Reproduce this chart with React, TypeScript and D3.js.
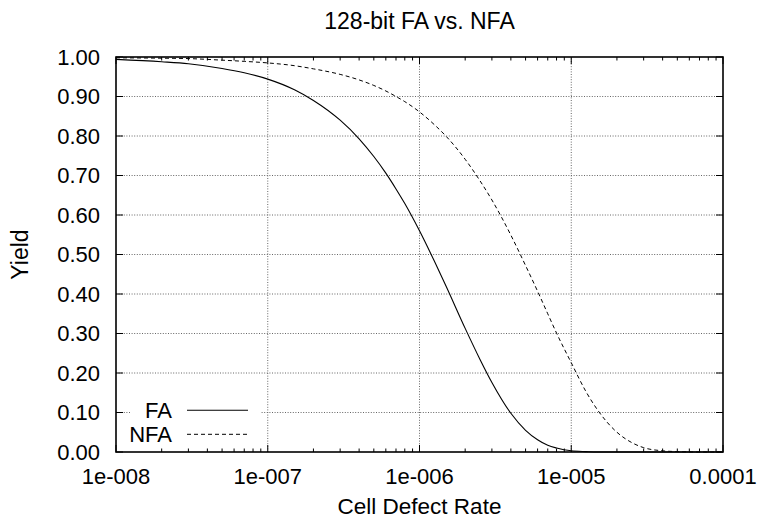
import React from "react";
import * as d3 from "d3";

// defect rate samples (x) and read-off yields for each design
const rates = [
  1e-8, 2e-8, 3e-8, 5e-8, 7e-8, 1e-7, 1.5e-7, 2e-7, 3e-7, 4e-7, 5e-7, 6e-7, 7e-7, 8e-7,
  1e-6, 1.25e-6, 1.5e-6, 2e-6, 2.5e-6, 3e-6, 4e-6, 5e-6, 6e-6, 7e-6, 8e-6,
  1e-5, 1.25e-5, 1.5e-5, 2e-5, 2.5e-5, 3e-5, 4e-5, 5e-5, 7e-5, 1e-4,
];
const faYield = [
  0.994, 0.988, 0.983, 0.971, 0.96, 0.944, 0.917, 0.89, 0.84, 0.793, 0.748, 0.706, 0.666, 0.629,
  0.56, 0.484, 0.419, 0.313, 0.235, 0.176, 0.098, 0.055, 0.031, 0.017, 0.01,
  0.003, 0.001, 0, 0, 0, 0, 0, 0, 0, 0,
];
const nfaYield = [
  0.998, 0.997, 0.996, 0.992, 0.989, 0.985, 0.978, 0.97, 0.956, 0.942, 0.928, 0.914, 0.9, 0.887,
  0.861, 0.829, 0.799, 0.741, 0.687, 0.638, 0.549, 0.472, 0.407, 0.35, 0.301,
  0.226, 0.153, 0.105, 0.05, 0.024, 0.011, 0.003, 0.001, 0, 0,
];
const xTicks = [1e-8, 1e-7, 1e-6, 1e-5, 1e-4];
const xTickLabels = ["1e-008", "1e-007", "1e-006", "1e-005", "0.0001"];
const yTicks = [0, 0.1, 0.2, 0.3, 0.4, 0.5, 0.6, 0.7, 0.8, 0.9, 1.0];
const seriesNames = ["FA", "NFA"];

const W = 758, H = 520;
const margin = { top: 57, right: 35, bottom: 68, left: 116 };
const font = "'Liberation Sans', Arial, Helvetica, sans-serif";

export default function App() {
  const x = d3.scaleLog().domain([1e-8, 1e-4]).range([margin.left, W - margin.right]);
  const y = d3.scaleLinear().domain([0, 1]).range([H - margin.bottom, margin.top]);
  const [x0, x1] = x.range();
  const [y0, y1] = y.range(); // y0 bottom, y1 top

  // minor ticks 2..9 within each decade
  const minor: number[] = [];
  for (let d = 0; d < 4; d++)
    for (let k = 2; k <= 9; k++) minor.push(k * xTicks[d]);

  const line = (vals: number[]) =>
    d3.line<number>()
      .x((_, i) => x(rates[i]))
      .y(v => y(v))
      .curve(d3.curveMonotoneX)(vals) || "";

  const gridStyle = { stroke: "#666", strokeWidth: 1, strokeDasharray: "1,1.6" };

  return (
    <svg width={W} height={H} style={{ position: "absolute", left: 0, top: 0, background: "#fff" }}
      fontFamily={font}>
      {/* grid */}
      {yTicks.slice(1, -1).map(t => (
        <line key={"gy" + t} x1={x0} x2={x1} y1={y(t)} y2={y(t)} {...gridStyle} />
      ))}
      {xTicks.slice(1, -1).map(t => (
        <line key={"gx" + t} x1={x(t)} x2={x(t)} y1={y0} y2={y1} {...gridStyle} />
      ))}

      {/* ticks, mirrored on all sides */}
      {yTicks.map(t => (
        <g key={"ty" + t} stroke="#000" strokeWidth={1}>
          <line x1={x0} x2={x0 + 7} y1={y(t)} y2={y(t)} />
          <line x1={x1} x2={x1 - 7} y1={y(t)} y2={y(t)} />
        </g>
      ))}
      {xTicks.map(t => (
        <g key={"tx" + t} stroke="#000" strokeWidth={1}>
          <line x1={x(t)} x2={x(t)} y1={y0} y2={y0 - 7} />
          <line x1={x(t)} x2={x(t)} y1={y1} y2={y1 + 7} />
        </g>
      ))}
      {minor.map(t => (
        <g key={"mx" + t} stroke="#000" strokeWidth={1}>
          <line x1={x(t)} x2={x(t)} y1={y0} y2={y0 - 3.5} />
          <line x1={x(t)} x2={x(t)} y1={y1} y2={y1 + 3.5} />
        </g>
      ))}

      {/* legend background */}
      <rect x={130} y={399} width={131} height={47} fill="#fff" />

      {/* curves */}
      <path d={line(faYield)} fill="none" stroke="#000" strokeWidth={1.1} />
      <path d={line(nfaYield)} fill="none" stroke="#000" strokeWidth={1} strokeDasharray="4,3" />

      {/* border */}
      <rect x={x0} y={y1} width={x1 - x0} height={y0 - y1} fill="none" stroke="#000" strokeWidth={1.6} />

      {/* tick labels */}
      {yTicks.map(t => (
        <text key={"ly" + t} x={x0 - 16} y={y(t) + 7.5} textAnchor="end" fontSize={22}>
          {t.toFixed(2)}
        </text>
      ))}
      {xTicks.map((t, i) => (
        <text key={"lx" + t} x={x(t)} y={y0 + 31.5} textAnchor="middle" fontSize={22}>
          {xTickLabels[i]}
        </text>
      ))}

      {/* titles */}
      <text x={(x0 + x1) / 2} y={29} textAnchor="middle" fontSize={23}>128-bit FA vs. NFA</text>
      <text x={(x0 + x1) / 2} y={514} textAnchor="middle" fontSize={22.5}>Cell Defect Rate</text>
      <text transform={`translate(28,${(y0 + y1) / 2}) rotate(-90)`} textAnchor="middle" fontSize={23}>Yield</text>

      {/* legend */}
      {seriesNames.map((name, i) => (
        <g key={name}>
          <text x={172} y={418.3 + i * 23.4} textAnchor="end" fontSize={22}>{name}</text>
          <line x1={187} x2={248} y1={410.3 + i * 24} y2={410.3 + i * 24} stroke="#000"
            strokeWidth={i === 0 ? 1.1 : 1} strokeDasharray={i === 0 ? undefined : "4,3"} />
        </g>
      ))}
    </svg>
  );
}
